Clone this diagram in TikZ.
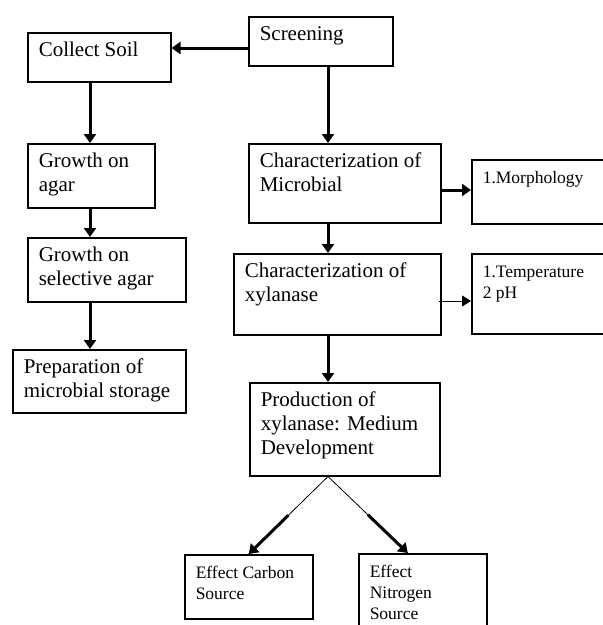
\documentclass[tikz,border=0pt]{standalone}
\usepackage{fontspec}
\setmainfont{Liberation Serif}
\usetikzlibrary{arrows.meta,calc}
\newcommand{\stagetext}[3]{\parbox[b][#2][t]{#1}{\raggedright\leftskip=11pt\rule{0pt}{24pt}#3}}
\begin{document}
\begin{tikzpicture}[x=1pt, y=-1pt,
stage/.style={draw=black, line width=1.5pt, inner sep=0pt, anchor=north west, font=\fontsize{21}{24}\selectfont},
note/.style={stage, font=\fontsize{17.5}{21}\selectfont},
flow/.style={line width=3pt, -{Triangle[length=9pt, width=12pt]}},
thinflow/.style={line width=0.8pt, -{Triangle[length=9pt, width=11pt]}},
]
\useasboundingbox (0,0) rectangle (603,625);
\clip (0,0) rectangle (603,625);

%Left column
\node[stage] (screen) at (248,16) {\stagetext{144pt}{49pt}{Screening}};
\node[stage] (soil) at (27,32) {\stagetext{143pt}{49pt}{Collect Soil}};
\node[stage] (agar) at (27,143) {\stagetext{127pt}{64pt}{Growth on\\agar}};
\node[stage] (selagar) at (27,237) {\stagetext{158pt}{64pt}{Growth on\\selective agar}};
\node[stage] (storage) at (12,349) {\stagetext{173pt}{63pt}{Preparation of\\microbial storage}};

%Right column
\node[stage] (micro) at (248,143) {\stagetext{192pt}{79pt}{Characterization of\\Microbial}};
\node[note] (morph) at (471,159) {\stagetext{150pt}{64pt}{1.Morphology}};
\node[stage] (xylan) at (233,253) {\stagetext{207pt}{81pt}{Characterization of\\xylanase}};
\node[note] (temp) at (471,253) {\stagetext{150pt}{80pt}{1.Temperature\\2 pH}};
\node[stage] (prod) at (249,382) {\stagetext{190pt}{93pt}{Production of\\xylanase: Medium\\Development}};
\node[note] (carbon) at (184,554) {\stagetext{128pt}{64pt}{Effect Carbon\\Source}};
\node[note] (nitro) at (358,553) {\stagetext{128pt}{90pt}{Effect\\Nitrogen\\Source}};

%Guide lines for the connectors
\coordinate (lspine) at (90,0);
\coordinate (rspine) at (328,0);
\coordinate (row0) at (0,48);
\coordinate (row1) at (0,190);
\coordinate (row2) at (0,301);
\coordinate (split) at (prod.south -| rspine);
\coordinate (nitroin) at ([xshift=-15pt]nitro.north);

%Connections
\draw[flow] (screen.west |- row0) -- (soil.east |- row0);
\draw[flow] (soil.south -| lspine) -- (agar.north -| lspine);
\draw[flow] (agar.south -| lspine) -- (selagar.north -| lspine);
\draw[flow] (selagar.south -| lspine) -- (storage.north -| lspine);
\draw[flow] (screen.south -| rspine) -- (micro.north -| rspine);
\draw[flow] (micro.south -| rspine) -- (xylan.north -| rspine);
\draw[flow] (xylan.south -| rspine) -- (prod.north -| rspine);
\draw[flow] (micro.east |- row1) -- (morph.west |- row1);
\draw[thinflow] ([xshift=-3pt]xylan.east |- row2) -- (temp.west |- row2);

%Split to the two media
\draw[line width=0.8pt] (split) -- (carbon.north);
\draw[line width=0.8pt] (split) -- (nitroin);
\draw[flow] ($(split)!0.5!(carbon.north)$) -- (carbon.north);
\draw[flow] ($(split)!0.5!(nitroin)$) -- (nitroin);
\end{tikzpicture}
\end{document}
